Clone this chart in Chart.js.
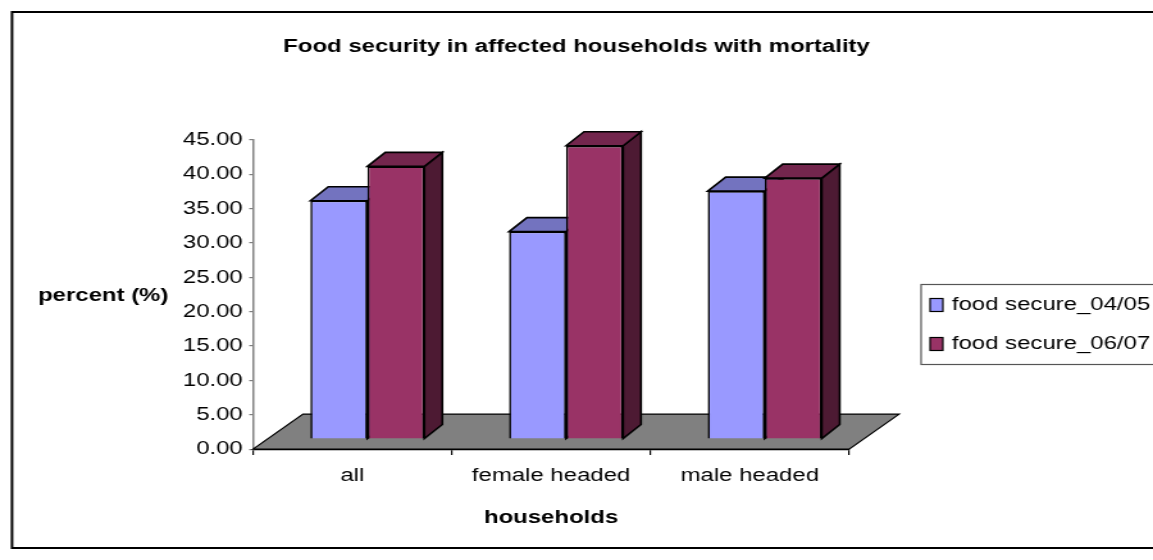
<!DOCTYPE html>
<html>
<head>
<meta charset="utf-8">
<script src="https://cdn.jsdelivr.net/npm/chart.js@4/dist/chart.umd.min.js"></script>
<style>
    html, body { margin: 0; padding: 0; background: #fff; }
</style>
</head>
<body>
<canvas id="chart" width="900" height="560" style="display:block;width:1153px;height:560px"></canvas>
<script>
/* ================= DATA ================= */
const categories   = ["all", "female headed", "male headed"];
const seriesLabels = ["food secure_04/05", "food secure_06/07"];
const secure0405   = [34.7, 30.2, 36.1];
const secure0607   = [39.7, 42.7, 38.0];
const yMin = 0, yMax = 45, yStep = 5;
const chartTitle = "Food security in affected households with mortality";

/* ================= STYLE ================= */
// the original picture is stretched sideways, so the canvas is drawn narrow
// and widened by css (900 -> 1153)
const FONT = "'Liberation Sans', Arial, sans-serif";
const FS = 18.7;

const fronts = ["#9999ff", "#993366"];
const tops   = ["#7373bf", "#73264d"];
const sides  = ["#4d4d80", "#4d1a33"];

const FLOOR_DX = 39, FLOOR_DY = 35;  // floor depth
const SHIFT_X = 11.7, SHIFT_Y = 10;  // bars sit a bit back on the floor
const BAR_DX = 14, BAR_DY = 14;      // bar depth

Chart.defaults.font.family = FONT;
Chart.defaults.font.size = FS;
Chart.defaults.color = "#000";

/* ================= 3D BARS ================= */
const bar3d = {
    id: "bar3d",
    beforeDatasetsDraw(chart) {
        const { ctx, chartArea: a, scales: { y } } = chart;
        const y0 = y.getPixelForValue(0);

        ctx.save();
        ctx.lineJoin = "miter";

        // floor
        ctx.beginPath();
        ctx.moveTo(a.left, y0);
        ctx.lineTo(a.right, y0);
        ctx.lineTo(a.right + FLOOR_DX, y0 - FLOOR_DY);
        ctx.lineTo(a.left + FLOOR_DX, y0 - FLOOR_DY);
        ctx.closePath();
        ctx.fillStyle = "#808080";
        ctx.fill();
        ctx.strokeStyle = "#000";
        ctx.lineWidth = 1.2;
        ctx.stroke();

        ctx.translate(SHIFT_X, -SHIFT_Y);
        ctx.lineWidth = 1.6;

        const metas = chart.getSortedVisibleDatasetMetas()
            .slice().sort((m1, m2) => m1.index - m2.index);

        categories.forEach((c, i) => {
            metas.forEach(meta => {
                const el = meta.data[i];
                const p = el.getProps(["x", "y", "base", "width"], true);
                const r = p.x + p.width / 2;
                const l = p.x - p.width / 2;

                // right side
                ctx.beginPath();
                ctx.moveTo(r, p.y);
                ctx.lineTo(r + BAR_DX, p.y - BAR_DY);
                ctx.lineTo(r + BAR_DX, p.base - BAR_DY);
                ctx.lineTo(r, p.base);
                ctx.closePath();
                ctx.fillStyle = sides[meta.index];
                ctx.fill();
                ctx.stroke();

                // top
                ctx.beginPath();
                ctx.moveTo(l, p.y);
                ctx.lineTo(l + BAR_DX, p.y - BAR_DY);
                ctx.lineTo(r + BAR_DX, p.y - BAR_DY);
                ctx.lineTo(r, p.y);
                ctx.closePath();
                ctx.fillStyle = tops[meta.index];
                ctx.fill();
                ctx.stroke();

                // front face, the library's own bar
                el.draw(ctx);
            });
        });

        ctx.restore();
        return false;
    }
};

/* ================= FRAME, TITLES, LEGEND ================= */
const extras = {
    id: "extras",
    afterDraw(chart) {
        const { ctx } = chart;
        ctx.save();

        // outer frame
        ctx.strokeStyle = "#000";
        ctx.lineWidth = 2;
        ctx.strokeRect(9.4, 12, 1000, 536);

        // chart title, centred on the whole picture
        ctx.fillStyle = "#000";
        ctx.font = `bold ${FS}px ${FONT}`;
        ctx.textAlign = "center";
        ctx.textBaseline = "middle";
        ctx.fillText(chartTitle, chart.width / 2, 47);

        // y title (horizontal)
        ctx.textAlign = "left";
        ctx.fillText("percent (%)", 29.7, 296);

        // legend box
        ctx.strokeStyle = "#555";
        ctx.lineWidth = 1.2;
        ctx.strokeRect(719, 284.5, 300, 80);

        ctx.font = `${FS}px ${FONT}`;
        const rows = [305, 344];
        seriesLabels.forEach((label, i) => {
            ctx.fillStyle = fronts[i];
            ctx.fillRect(726, rows[i] - 6.5, 10, 13);
            ctx.strokeStyle = "#000";
            ctx.lineWidth = 1.2;
            ctx.strokeRect(726, rows[i] - 6.5, 10, 13);
            ctx.fillStyle = "#000";
            ctx.fillText(label, 743, rows[i]);
        });

        ctx.restore();
    }
};

/* ================= CHART ================= */
new Chart(document.getElementById("chart"), {
    type: "bar",
    data: {
        labels: categories,
        datasets: [
            {
                label: seriesLabels[0],
                data: secure0405,
                backgroundColor: fronts[0],
                borderColor: "#000",
                borderWidth: 1.6,
                barPercentage: 1,
                categoryPercentage: 0.574
            },
            {
                label: seriesLabels[1],
                data: secure0607,
                backgroundColor: fronts[1],
                borderColor: "#000",
                borderWidth: 1.6,
                barPercentage: 1,
                categoryPercentage: 0.574
            }
        ]
    },
    options: {
        responsive: false,
        animation: false,
        layout: { padding: { left: 0, right: 237.2, top: 140, bottom: 0 } },
        plugins: {
            legend: { display: false },
            tooltip: { enabled: false },
            title: { display: false }
        },
        scales: {
            x: {
                grid: {
                    drawOnChartArea: false,
                    drawTicks: true,
                    tickLength: 6,
                    color: "#000",
                    lineWidth: 1.2
                },
                border: { display: true, color: "#000", width: 1.2 },
                ticks: { padding: 10, color: "#000" },
                title: {
                    display: true,
                    text: "households",
                    color: "#000",
                    font: { size: FS, weight: "bold" },
                    padding: { top: 9, bottom: 31 }
                }
            },
            y: {
                min: yMin,
                max: yMax,
                afterFit(scale) { scale.width = 197.5; },
                grid: {
                    drawOnChartArea: false,
                    drawTicks: true,
                    tickLength: 3,
                    color: "#808080",
                    lineWidth: 1.2
                },
                border: { display: true, color: "#808080", width: 1.5 },
                ticks: {
                    stepSize: yStep,
                    padding: 5,
                    color: "#000",
                    callback: v => v.toFixed(2)
                }
            }
        }
    },
    plugins: [bar3d, extras]
});
</script>
</body>
</html>
